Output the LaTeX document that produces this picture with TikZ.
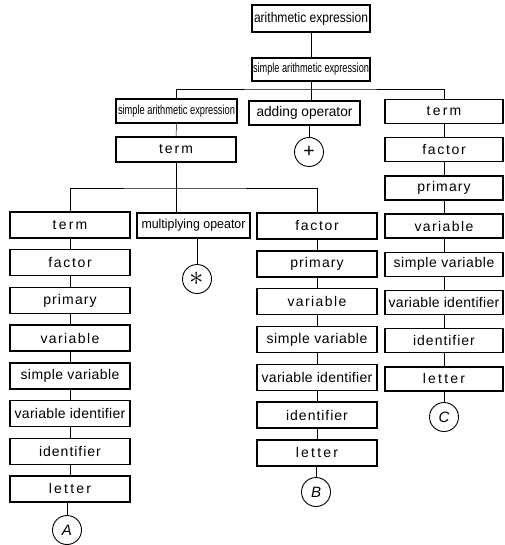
\documentclass[tikz,border=0pt]{standalone}
\usepackage{fontspec}
\setmainfont{Liberation Sans}
\usepackage{graphicx}
\newsavebox\lblbox
\newcommand\fitw[2]{\sbox\lblbox{#2}\pgfmathsetmacro\lblsf{#1/\wd\lblbox}\scalebox{\lblsf}[1]{\usebox\lblbox}}
\newcommand\ls[2]{{\addfontfeature{LetterSpace=#1}#2}}
\tikzset{
  bx/.style 2 args={draw, line width=1.4pt, minimum width=#1, minimum height=#2,
    inner sep=0pt, font=\fontsize{14}{14}\selectfont},
  sm/.style={font=\fontsize{13}{13}\selectfont},
  circ/.style={draw, circle, line width=0.9pt, minimum size=29pt, inner sep=0pt,
    font=\fontsize{15}{15}\selectfont},
  conn/.style={line width=0.5pt}
}
\begin{document}
\begin{tikzpicture}[x=1pt,y=-1pt]
\useasboundingbox (0,0) rectangle (504,545);
% top
\node[bx={118pt}{27pt}] (ae) at (311,18.5) {\fitw{114}{arithmetic expression}};
\node[bx={118pt}{23pt},sm] (sae) at (311,69.5) {\fitw{116}{simple arithmetic expression}};
\coordinate (jt) at (311,89);
% second level
\node[bx={121pt}{24pt},sm] (sae2) at (176.5,111) {\fitw{117}{simple arithmetic expression}};
\node[bx={111pt}{24pt}] (addop) at (304.5,113) {\fitw{96}{adding operator}};
\node[circ] (plus) at (309,152) {\scalebox{1.3}{+}};
\node[bx={118pt}{24pt}] (r1) at (444,111.5) {\ls{16}{term}};
\node[bx={118pt}{24pt}] (r2) at (444,149.7) {\ls{12}{factor}};
\node[bx={118pt}{24pt}] (r3) at (444,187.9) {\ls{8}{primary}};
\node[bx={118pt}{24pt}] (r4) at (444,226.1) {\ls{10}{variable}};
\node[bx={118pt}{24pt}] (r5) at (444,264.3) {\ls{4}{simple variable}};
\node[bx={118pt}{24pt}] (r6) at (444,302.5) {\ls{2}{variable identifier}};
\node[bx={118pt}{24pt}] (r7) at (444,340.7) {\ls{7}{identifier}};
\node[bx={118pt}{24pt}] (r8) at (444,378.9) {\ls{16}{letter}};
\node[circ] (cC) at (444,417) {\textit{C}};
% term under left sae
\node[bx={120pt}{25pt}] (termL) at (176,149.5) {\ls{14}{term}};
\coordinate (jm) at (176,188);
% column A
\node[bx={120pt}{26pt}] (a1) at (70,225) {\ls{16}{term}};
\node[bx={120pt}{26pt}] (a2) at (70,262.7) {\ls{12}{factor}};
\node[bx={120pt}{26pt}] (a3) at (70,300.4) {\ls{8}{primary}};
\node[bx={120pt}{26pt}] (a4) at (70,338.1) {\ls{10}{variable}};
\node[bx={120pt}{26pt}] (a5) at (70,375.8) {\ls{3}{simple variable}};
\node[bx={120pt}{26pt}] (a6) at (70,413.5) {\ls{2}{variable identifier}};
\node[bx={120pt}{26pt}] (a7) at (70,451.2) {\ls{7}{identifier}};
\node[bx={120pt}{26pt}] (a8) at (70,488.9) {\ls{16}{letter}};
\node[circ] (cA) at (67,530) {\textit{A}};
% multiplying operator
\node[bx={113pt}{25pt},sm] (mul) at (193.5,225.5) {\fitw{104}{multiplying opeator}};
\node[circ] (star) at (197,279) {\scalebox{2}{$\ast$}};
% column B
\node[bx={120pt}{26pt}] (b1) at (317,226) {\ls{12}{factor}};
\node[bx={120pt}{26pt}] (b2) at (317,263.8) {\ls{8}{primary}};
\node[bx={120pt}{26pt}] (b3) at (317,301.6) {\ls{10}{variable}};
\node[bx={120pt}{26pt}] (b4) at (317,339.4) {\ls{4}{simple variable}};
\node[bx={120pt}{26pt}] (b5) at (317,377.2) {\ls{2}{variable identifier}};
\node[bx={120pt}{26pt}] (b6) at (317,415) {\ls{7}{identifier}};
\node[bx={120pt}{26pt}] (b7) at (317,452.8) {\ls{16}{letter}};
\node[circ] (cB) at (316,492) {\textit{B}};
% connectors
\draw[conn] (ae) -- (sae);
\draw[conn] (sae) -- (jt);
\draw[conn] (sae2.north) |- (jt) -| (r1.north);
\draw[conn] (jt) -- (addop.north -| jt);
\draw[conn] (addop.south -| plus.north) -- (plus.north);
\draw[conn] (sae2) -- (termL);
\draw[conn] (termL) -- (jm);
\draw[conn] (a1.north) |- (jm) -| (b1.north);
\draw[conn] (jm) -- (mul.north -| jm);
\draw[conn] (mul.south -| star.north) -- (star.north);
\foreach \i/\j in {1/2,2/3,3/4,4/5,5/6,6/7,7/8} {
  \draw[conn] (a\i) -- (a\j);
  \draw[conn] (r\i) -- (r\j);
}
\foreach \i/\j in {1/2,2/3,3/4,4/5,5/6,6/7} {
  \draw[conn] (b\i) -- (b\j);
}
\draw[conn] (a8.south -| cA.north) -- (cA.north);
\draw[conn] (b7.south -| cB.north) -- (cB.north);
\draw[conn] (r8.south -| cC.north) -- (cC.north);
\end{tikzpicture}
\end{document}
